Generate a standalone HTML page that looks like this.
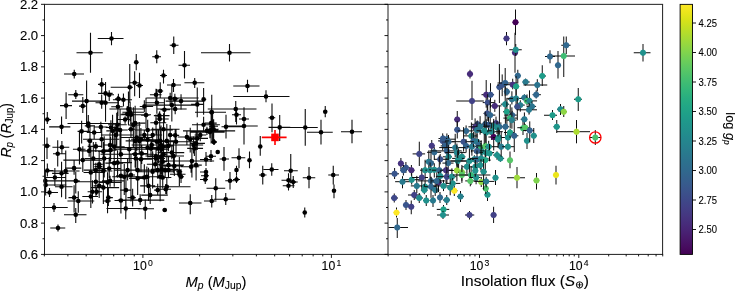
<!DOCTYPE html><html><head><meta charset="utf-8"><style>html,body{margin:0;padding:0;background:#fff;}svg{display:block;will-change:transform;}</style></head><body><svg width="735" height="293" viewBox="0 0 735 293"><rect width="735" height="293" fill="#fff"/><defs><linearGradient id="vir" x1="0" y1="1" x2="0" y2="0"><stop offset="0.0000" stop-color="#440154"/><stop offset="0.0312" stop-color="#470d60"/><stop offset="0.0625" stop-color="#48186a"/><stop offset="0.0938" stop-color="#482374"/><stop offset="0.1250" stop-color="#472d7b"/><stop offset="0.1562" stop-color="#453781"/><stop offset="0.1875" stop-color="#424086"/><stop offset="0.2188" stop-color="#3e4989"/><stop offset="0.2500" stop-color="#3b528b"/><stop offset="0.2812" stop-color="#375b8d"/><stop offset="0.3125" stop-color="#33638d"/><stop offset="0.3438" stop-color="#2f6b8e"/><stop offset="0.3750" stop-color="#2c728e"/><stop offset="0.4062" stop-color="#297a8e"/><stop offset="0.4375" stop-color="#26828e"/><stop offset="0.4688" stop-color="#23898e"/><stop offset="0.5000" stop-color="#21918c"/><stop offset="0.5312" stop-color="#1f988b"/><stop offset="0.5625" stop-color="#1fa088"/><stop offset="0.5938" stop-color="#22a785"/><stop offset="0.6250" stop-color="#28ae80"/><stop offset="0.6562" stop-color="#32b67a"/><stop offset="0.6875" stop-color="#3fbc73"/><stop offset="0.7188" stop-color="#4ec36b"/><stop offset="0.7500" stop-color="#5ec962"/><stop offset="0.7812" stop-color="#70cf57"/><stop offset="0.8125" stop-color="#84d44b"/><stop offset="0.8438" stop-color="#98d83e"/><stop offset="0.8750" stop-color="#addc30"/><stop offset="0.9062" stop-color="#c2df23"/><stop offset="0.9375" stop-color="#d8e219"/><stop offset="0.9688" stop-color="#ece51b"/><stop offset="1.0000" stop-color="#fde725"/></linearGradient></defs><rect x="680.10" y="4.35" width="12.40" height="250.05" fill="url(#vir)"/><path d="M97.75 38.50H123.50M111.50 32.00V45.25M76.50 52.75H102.75M90.50 32.75V72.75M64.00 74.00H84.00M74.25 69.75V78.50M134.00 62.25H138.50M136.25 54.00V70.25M152.25 56.75H161.00M156.75 50.25V63.25M169.75 45.25H178.50M173.75 36.50V54.00M178.50 65.25H190.00M184.50 51.00V78.50M201.00 52.75H250.50M229.50 44.00V61.50M160.00 75.50H167.00M163.50 69.75V83.50M110.70 87.25H133.00M129.75 64.00V103.00M136.00 85.50H143.00M139.50 72.75V98.00M233.25 86.00H259.50M247.50 79.75V92.25M233.25 96.50H289.50M266.00 90.25V102.25M323.50 111.75H327.00M325.25 106.00V117.25M207.75 109.00H256.50M235.75 101.00V122.00M232.00 114.75H241.00M236.50 107.00V124.50M239.00 119.00H249.00M244.00 112.00V125.00M268.50 117.75H275.25M272.00 103.50V132.25M204.00 112.25H225.25M211.75 94.75V129.75M221.50 126.75H244.00M226.00 114.75V138.50M226.50 126.00H257.75M244.00 107.25V144.50M268.50 127.40H290.25M279.70 115.00V141.00M290.25 127.50H317.75M305.25 109.00V145.75M307.00 132.25H332.75M321.00 119.75V144.50M341.00 131.75H362.00M352.00 119.75V143.25M259.00 146.50H261.50M260.25 136.10V155.75M211.00 142.00H217.00M214.00 139.00V145.00M206.00 156.25H216.00M211.00 150.00V162.00M200.00 159.50H212.00M206.00 152.00V166.00M219.50 159.00H229.00M224.00 147.00V170.75M231.50 157.75H245.25M239.00 148.25V168.25M248.00 160.25H251.00M249.50 151.50V168.25M235.00 170.00H238.00M236.50 165.75V175.75M233.00 179.50H240.00M236.50 176.00V183.00M225.25 180.75H234.50M230.00 172.00V189.50M259.00 175.00H266.50M262.75 165.75V184.50M263.50 169.50H278.50M271.75 163.25V175.75M284.00 170.75H297.75M290.75 154.00V183.25M281.50 180.25H294.00M288.50 173.25V189.50M289.00 182.00H297.75M293.25 176.00V188.00M282.75 185.75H294.50M288.50 181.00V190.50M302.75 177.75H315.25M309.00 167.00V188.25M328.25 175.00H339.00M333.25 165.75V184.50M333.00 190.75H335.00M334.00 184.50V198.25M200.00 172.00H208.00M206.00 168.00V176.00M201.00 175.75H209.00M206.00 172.00V180.00M200.00 179.50H208.00M205.25 175.00V184.00M206.50 188.25H225.25M215.75 178.25V200.00M214.00 199.25H235.25M225.75 193.00V205.00M204.00 201.00H216.50M211.75 195.00V207.50M303.75 212.50H305.75M304.75 207.50V217.50M44.50 192.50H58.00M49.50 188.00V197.00M44.50 207.50H67.75M54.00 203.00V212.00M50.25 228.00H65.25M58.00 224.50V231.50M64.00 214.75H86.50M75.75 208.00V223.00M106.50 208.50H140.25M125.75 199.25V219.25M137.75 208.75H154.00M145.25 199.25V219.25M162.50 210.00H167.00M164.75 208.00V212.00M179.00 203.00H201.50M190.25 194.25V214.25M68.20 94.70H83.30M75.80 90.00V99.00M60.00 105.60H72.00M66.10 92.20V119.00M44.50 119.50H51.00M47.30 112.00V124.00M72.00 101.10H105.00M86.60 80.50V126.50M79.00 106.10H86.00M82.80 97.00V113.00M98.00 84.40H105.50M101.70 78.00V93.00M184.40 82.70H204.40M194.70 78.00V88.00M195.00 112.30H226.00M211.60 106.00V119.00M167.00 85.00H181.00M173.50 79.00V92.00M160.00 189.25H171.00M165.75 184.00V194.00M98.11 93.38H112.65M105.54 81.96V106.14M106.57 94.72H114.03M109.22 90.36V100.95M95.51 102.75H107.03M101.69 94.58V108.63M97.46 102.75H118.59M105.54 89.04V121.86M115.08 98.90H121.26M118.41 93.72V104.65M112.92 99.74H131.99M123.43 93.40V106.46M111.24 106.76H122.73M117.91 96.06V115.95M129.12 82.68H138.90M134.64 71.26V96.32M139.73 106.43H153.13M144.33 100.18V111.91M109.42 108.94H143.69M128.45 91.51V125.11M122.41 112.28H144.34M130.12 101.66V121.38M120.75 114.79H151.00M130.96 107.10V122.72M121.57 113.95H133.82M127.28 106.05V119.94M141.11 115.12H149.46M146.01 97.82V128.31M117.34 119.47H129.88M125.10 116.30V123.76M149.90 94.72H161.58M156.04 88.63V102.16M155.47 91.04H163.16M160.22 82.32V98.58M145.24 102.75H164.45M156.88 89.05V113.83M153.87 115.63H169.54M159.38 112.20V120.64M155.31 118.97H168.71M159.72 111.15V129.53M160.38 109.77H169.95M164.40 98.71V122.32M150.27 122.82H166.25M156.04 114.47V134.62M129.98 123.15H145.25M135.14 105.80V135.60M108.11 124.82H126.74M117.58 111.83V133.98M67.51 123.48H120.81M88.31 115.06V130.34M49.12 126.83H70.38M61.56 116.44V134.12M146.42 98.07H198.63M170.17 92.82V106.03M169.01 98.90H178.45M174.85 93.65V104.38M165.65 101.08H204.03M181.04 94.29V109.81M143.45 105.09H195.65M171.84 84.48V121.52M156.27 108.94H186.67M175.18 104.04V114.26M202.06 99.40H206.19M203.61 88.01V114.80M191.11 104.42H203.92M197.26 87.42V117.31M191.98 124.82H219.93M203.61 116.78V132.33M204.97 123.15H216.73M211.14 113.47V130.32M44.50 145.90H50.30M47.01 137.40V158.95M52.42 147.24H69.25M61.89 140.94V153.26M52.97 153.76H65.84M57.71 140.36V166.54M72.93 149.25H85.52M79.45 130.62V164.53M63.36 160.12H101.95M82.80 146.37V171.97M65.03 168.14H81.34M74.10 159.39V174.76M45.70 170.99H79.56M65.74 150.47V199.06M44.50 170.48H53.36M47.34 163.57V176.55M86.83 140.89H92.08M89.99 126.25V151.27M86.76 132.53H101.44M94.17 126.63V139.26M77.58 131.35H89.62M81.63 120.72V143.59M80.69 150.92H105.30M89.15 143.56V156.87M87.67 146.40H101.60M95.84 141.94V151.88M84.80 158.44H108.76M93.33 142.10V170.28M83.04 139.21H119.21M101.69 127.64V147.66M98.13 151.42H112.30M103.36 142.06V163.94M103.24 145.07H116.87M110.05 132.55V161.56M106.32 130.85H121.98M112.56 114.63V147.41M100.89 135.03H133.05M115.91 124.77V145.24M113.51 128.68H120.38M116.74 112.63V146.88M114.30 130.02H127.75M120.09 108.49V156.78M105.68 127.51H117.96M110.89 120.19V132.72M94.32 127.01H107.59M100.86 121.75V132.26M84.81 125.84H94.98M88.31 121.11V133.06M102.59 150.08H116.57M110.56 137.04V161.63M108.71 146.74H124.70M114.23 126.33V162.61M100.55 154.26H154.10M120.92 130.04V178.04M93.94 158.44H112.53M104.20 136.28V177.54M93.82 164.30H103.82M99.18 151.41V175.50M105.32 163.13H123.12M114.23 138.79V186.79M109.59 162.63H131.98M117.58 150.14V177.83M97.26 168.48H121.48M109.22 157.30V178.18M114.74 149.25H152.68M129.28 138.44V162.55M125.64 140.89H152.65M135.14 130.78V153.16M120.65 137.54H152.65M136.81 124.74V150.71M128.18 140.89H146.04M139.32 122.09V154.52M127.99 129.18H135.31M130.96 117.52V137.58M138.72 135.03H147.81M144.33 130.34V141.49M135.32 130.02H172.75M147.68 119.68V140.42M145.25 135.03H162.10M152.70 127.58V140.81M135.32 139.72H162.17M147.68 123.39V157.53M145.69 148.41H160.23M151.02 138.69V155.97M151.02 141.72H163.73M156.88 129.16V150.71M131.63 145.07H184.03M161.06 125.39V174.34M151.44 129.18H179.52M163.57 113.35V152.75M150.81 149.25H168.59M161.89 144.36V155.22M126.07 154.26H149.28M135.14 144.42V167.43M133.68 159.28H151.98M140.99 150.93V171.23M148.20 158.44H163.26M156.04 149.48V165.17M148.15 156.77H176.11M161.06 148.36V166.38M156.86 161.79H166.69M162.73 152.41V173.73M146.84 164.30H160.37M155.20 154.05V172.19M114.33 170.15H153.96M137.65 166.72V172.78M120.54 170.15H132.03M127.61 158.01V180.39M145.30 170.15H181.41M157.71 159.38V178.85M83.77 170.15H106.16M95.84 162.75V176.50M93.23 170.99H112.38M103.36 163.52V182.52M128.20 125.00H140.71M133.38 107.33V146.88M131.05 139.21H149.04M140.90 128.01V147.40M152.18 140.89H165.86M160.13 126.90V152.54M156.03 140.89H174.42M166.82 124.06V162.02M167.90 135.03H173.43M170.17 124.93V145.85M169.07 135.37H179.17M175.18 128.87V140.26M159.89 141.72H194.90M176.02 129.43V155.85M160.92 145.90H173.81M168.49 140.77V151.32M159.60 146.74H167.21M162.64 143.90V149.91M152.12 148.41H163.27M158.46 128.64V163.12M145.39 145.07H159.83M151.77 140.41V150.68M114.47 147.58H168.00M147.59 139.54V153.33M132.06 153.43H147.87M141.74 145.29V164.11M112.70 158.44H165.04M135.89 147.07V171.19M145.49 155.94H170.50M155.95 152.90V160.38M161.14 154.26H167.54M163.48 145.84V162.69M157.58 152.59H184.24M171.84 145.00V159.23M162.16 155.94H184.00M173.51 140.86V172.67M158.82 165.13H183.93M168.49 156.04V171.96M162.33 165.97H182.91M174.35 154.73V175.94M159.14 170.15H175.26M165.15 164.89V177.01M137.01 171.82H173.90M152.61 151.19V188.53M177.73 137.04H201.77M186.89 130.73V145.16M186.85 139.21H197.02M190.23 127.71V152.49M180.31 145.07H203.16M193.58 136.32V153.48M190.43 143.39H204.96M196.09 130.48V154.50M187.19 148.41H203.06M194.41 141.41V155.91M191.94 138.38H208.00M197.26 122.80V149.94M194.59 135.03H206.22M200.27 130.46V141.14M182.97 130.85H235.14M206.96 126.72V134.98M207.00 130.02H218.21M211.14 116.67V143.46M205.73 129.18H218.66M213.65 119.31V140.00M161.45 160.95H214.10M191.91 147.95V177.41M192.14 165.13H201.80M196.09 150.89V180.59M180.55 166.81H199.24M191.07 158.89V172.70M176.12 171.82H182.25M179.36 156.94V186.12M44.50 177.54H66.24M54.87 168.07V185.92M52.10 173.36H68.61M61.56 161.82V182.69M54.92 186.74H72.55M61.56 176.79V197.26M71.19 180.89H79.69M75.77 172.06V193.61M44.50 180.89H71.28M45.34 170.79V192.04M44.50 185.07H66.48M45.67 177.32V195.39M68.51 197.61H77.75M74.10 185.20V212.59M67.43 200.95H94.22M78.28 191.22V212.83M83.55 172.53H102.16M90.82 145.79V194.07M94.45 166.67H102.35M99.18 153.79V179.00M74.45 181.72H111.24M95.84 170.29V195.65M93.59 185.90H103.45M99.18 177.80V197.97M90.95 187.58H119.13M103.36 177.11V203.90M98.89 182.56H121.80M107.55 172.18V195.64M101.98 180.89H123.90M110.05 175.78V186.63M87.60 191.76H96.73M92.49 180.31V203.43M88.61 191.76H102.07M96.68 187.27V195.37M82.29 196.44H98.04M90.82 185.29V208.10M105.95 197.61H112.88M108.38 187.11V206.11M102.69 200.95H110.99M107.55 191.67V213.23M116.14 175.87H130.58M120.92 148.56V196.96M112.21 176.71H141.54M124.27 163.79V194.92M125.80 175.03H135.02M130.96 153.28V201.51M129.12 178.38H149.20M137.65 159.73V195.07M136.33 177.54H149.64M144.33 164.16V192.97M131.24 176.71H159.31M146.84 166.51V184.51M156.84 177.54H171.33M162.73 165.52V188.46M140.16 185.90H155.20M148.52 167.85V200.96M154.11 190.08H160.25M157.71 183.69V194.86M120.10 190.08H130.95M125.94 171.54V212.24M141.24 195.10H167.81M150.19 187.86V203.99M127.39 197.61H135.83M132.63 188.71V206.48M117.83 200.12H164.29M140.15 194.25V204.89M114.50 200.45H125.26M120.92 191.30V213.54M150.96 169.18H178.31M161.81 159.07V179.33M164.54 170.02H171.65M168.49 161.73V178.31M156.92 176.71H162.90M160.13 154.82V201.35M169.92 174.20H185.50M179.36 166.74V181.65M177.89 176.71H184.06M181.04 169.13V182.94M151.92 186.74H190.51M166.82 176.89V194.35M189.90 132.10H224.66M209.90 125.56V138.24M209.01 126.20H218.00M212.60 111.29V143.79" stroke="#0d0d0d" stroke-width="1.1" fill="none"/><g fill="#000"><circle cx="111.50" cy="38.50" r="2.3"/><circle cx="90.50" cy="52.75" r="2.3"/><circle cx="74.25" cy="74.00" r="2.3"/><circle cx="136.25" cy="62.25" r="2.3"/><circle cx="156.75" cy="56.75" r="2.3"/><circle cx="173.75" cy="45.25" r="2.3"/><circle cx="184.50" cy="65.25" r="2.3"/><circle cx="229.50" cy="52.75" r="2.3"/><circle cx="163.50" cy="75.50" r="2.3"/><circle cx="129.75" cy="87.25" r="2.3"/><circle cx="139.50" cy="85.50" r="2.3"/><circle cx="247.50" cy="86.00" r="2.3"/><circle cx="266.00" cy="96.50" r="2.3"/><circle cx="325.25" cy="111.75" r="2.3"/><circle cx="235.75" cy="109.00" r="2.3"/><circle cx="236.50" cy="114.75" r="2.3"/><circle cx="244.00" cy="119.00" r="2.3"/><circle cx="272.00" cy="117.75" r="2.3"/><circle cx="211.75" cy="112.25" r="2.3"/><circle cx="226.00" cy="126.75" r="2.3"/><circle cx="244.00" cy="126.00" r="2.3"/><circle cx="279.70" cy="127.40" r="2.3"/><circle cx="305.25" cy="127.50" r="2.3"/><circle cx="321.00" cy="132.25" r="2.3"/><circle cx="352.00" cy="131.75" r="2.3"/><circle cx="260.25" cy="146.50" r="2.3"/><circle cx="217.75" cy="152.00" r="2.3"/><path d="M214.00 139.00L217.00 142.00L214.00 145.00L211.00 142.00Z"/><circle cx="211.00" cy="156.25" r="2.3"/><circle cx="206.00" cy="159.50" r="2.3"/><circle cx="224.00" cy="159.00" r="2.3"/><circle cx="239.00" cy="157.75" r="2.3"/><circle cx="249.50" cy="160.25" r="2.3"/><circle cx="236.50" cy="170.00" r="2.3"/><path d="M236.50 176.50L239.50 179.50L236.50 182.50L233.50 179.50Z"/><circle cx="230.00" cy="180.75" r="2.3"/><circle cx="262.75" cy="175.00" r="2.3"/><circle cx="271.75" cy="169.50" r="2.3"/><circle cx="290.75" cy="170.75" r="2.3"/><circle cx="288.50" cy="180.25" r="2.3"/><path d="M293.25 179.00L296.25 182.00L293.25 185.00L290.25 182.00Z"/><circle cx="288.50" cy="185.75" r="2.3"/><circle cx="309.00" cy="177.75" r="2.3"/><circle cx="333.25" cy="175.00" r="2.3"/><circle cx="334.00" cy="190.75" r="2.3"/><circle cx="206.00" cy="172.00" r="2.3"/><circle cx="206.00" cy="175.75" r="2.3"/><circle cx="205.25" cy="179.50" r="2.3"/><circle cx="215.75" cy="188.25" r="2.3"/><circle cx="225.75" cy="199.25" r="2.3"/><circle cx="211.75" cy="201.00" r="2.3"/><circle cx="304.75" cy="212.50" r="2.3"/><circle cx="49.50" cy="192.50" r="2.3"/><circle cx="54.00" cy="207.50" r="2.3"/><circle cx="58.00" cy="228.00" r="2.3"/><circle cx="75.75" cy="214.75" r="2.3"/><circle cx="125.75" cy="208.50" r="2.3"/><circle cx="145.25" cy="208.75" r="2.3"/><circle cx="164.75" cy="210.00" r="2.3"/><circle cx="190.25" cy="203.00" r="2.3"/><circle cx="75.80" cy="94.70" r="2.3"/><circle cx="66.10" cy="105.60" r="2.3"/><circle cx="47.30" cy="119.50" r="2.3"/><circle cx="86.60" cy="101.10" r="2.3"/><circle cx="82.80" cy="106.10" r="2.3"/><circle cx="101.70" cy="84.40" r="2.3"/><circle cx="194.70" cy="82.70" r="2.3"/><circle cx="211.60" cy="112.30" r="2.3"/><circle cx="173.50" cy="85.00" r="2.3"/><circle cx="165.75" cy="189.25" r="2.3"/><circle cx="105.54" cy="93.38" r="2.3"/><circle cx="109.22" cy="94.72" r="2.3"/><circle cx="101.69" cy="102.75" r="2.3"/><circle cx="105.54" cy="102.75" r="2.3"/><circle cx="118.41" cy="98.90" r="2.3"/><circle cx="123.43" cy="99.74" r="2.3"/><circle cx="117.91" cy="106.76" r="2.3"/><circle cx="134.64" cy="82.68" r="2.3"/><circle cx="144.33" cy="106.43" r="2.3"/><circle cx="128.45" cy="108.94" r="2.3"/><circle cx="130.12" cy="112.28" r="2.3"/><circle cx="130.96" cy="114.79" r="2.3"/><circle cx="127.28" cy="113.95" r="2.3"/><circle cx="146.01" cy="115.12" r="2.3"/><circle cx="125.10" cy="119.47" r="2.3"/><circle cx="156.04" cy="94.72" r="2.3"/><circle cx="160.22" cy="91.04" r="2.3"/><circle cx="156.88" cy="102.75" r="2.3"/><circle cx="159.38" cy="115.63" r="2.3"/><circle cx="159.72" cy="118.97" r="2.3"/><circle cx="164.40" cy="109.77" r="2.3"/><circle cx="156.04" cy="122.82" r="2.3"/><circle cx="135.14" cy="123.15" r="2.3"/><circle cx="117.58" cy="124.82" r="2.3"/><circle cx="88.31" cy="123.48" r="2.3"/><circle cx="61.56" cy="126.83" r="2.3"/><circle cx="170.17" cy="98.07" r="2.3"/><circle cx="174.85" cy="98.90" r="2.3"/><circle cx="181.04" cy="101.08" r="2.3"/><circle cx="171.84" cy="105.09" r="2.3"/><circle cx="175.18" cy="108.94" r="2.3"/><circle cx="203.61" cy="99.40" r="2.3"/><circle cx="197.26" cy="104.42" r="2.3"/><circle cx="203.61" cy="124.82" r="2.3"/><circle cx="211.14" cy="123.15" r="2.3"/><circle cx="47.01" cy="145.90" r="2.3"/><circle cx="61.89" cy="147.24" r="2.3"/><circle cx="57.71" cy="153.76" r="2.3"/><circle cx="79.45" cy="149.25" r="2.3"/><circle cx="82.80" cy="160.12" r="2.3"/><circle cx="74.10" cy="168.14" r="2.3"/><circle cx="65.74" cy="170.99" r="2.3"/><circle cx="47.34" cy="170.48" r="2.3"/><circle cx="89.99" cy="140.89" r="2.3"/><circle cx="94.17" cy="132.53" r="2.3"/><circle cx="81.63" cy="131.35" r="2.3"/><circle cx="89.15" cy="150.92" r="2.3"/><circle cx="95.84" cy="146.40" r="2.3"/><circle cx="93.33" cy="158.44" r="2.3"/><circle cx="101.69" cy="139.21" r="2.3"/><circle cx="103.36" cy="151.42" r="2.3"/><circle cx="110.05" cy="145.07" r="2.3"/><circle cx="112.56" cy="130.85" r="2.3"/><circle cx="115.91" cy="135.03" r="2.3"/><circle cx="116.74" cy="128.68" r="2.3"/><circle cx="120.09" cy="130.02" r="2.3"/><circle cx="110.89" cy="127.51" r="2.3"/><circle cx="100.86" cy="127.01" r="2.3"/><circle cx="88.31" cy="125.84" r="2.3"/><circle cx="110.56" cy="150.08" r="2.3"/><circle cx="114.23" cy="146.74" r="2.3"/><circle cx="120.92" cy="154.26" r="2.3"/><circle cx="104.20" cy="158.44" r="2.3"/><circle cx="99.18" cy="164.30" r="2.3"/><circle cx="114.23" cy="163.13" r="2.3"/><circle cx="117.58" cy="162.63" r="2.3"/><circle cx="109.22" cy="168.48" r="2.3"/><circle cx="129.28" cy="149.25" r="2.3"/><circle cx="135.14" cy="140.89" r="2.3"/><circle cx="136.81" cy="137.54" r="2.3"/><circle cx="139.32" cy="140.89" r="2.3"/><circle cx="130.96" cy="129.18" r="2.3"/><circle cx="144.33" cy="135.03" r="2.3"/><circle cx="147.68" cy="130.02" r="2.3"/><circle cx="152.70" cy="135.03" r="2.3"/><circle cx="147.68" cy="139.72" r="2.3"/><circle cx="151.02" cy="148.41" r="2.3"/><circle cx="156.88" cy="141.72" r="2.3"/><circle cx="161.06" cy="145.07" r="2.3"/><circle cx="163.57" cy="129.18" r="2.3"/><circle cx="161.89" cy="149.25" r="2.3"/><circle cx="135.14" cy="154.26" r="2.3"/><circle cx="140.99" cy="159.28" r="2.3"/><circle cx="156.04" cy="158.44" r="2.3"/><circle cx="161.06" cy="156.77" r="2.3"/><circle cx="162.73" cy="161.79" r="2.3"/><circle cx="155.20" cy="164.30" r="2.3"/><circle cx="137.65" cy="170.15" r="2.3"/><circle cx="127.61" cy="170.15" r="2.3"/><circle cx="157.71" cy="170.15" r="2.3"/><circle cx="95.84" cy="170.15" r="2.3"/><circle cx="103.36" cy="170.99" r="2.3"/><circle cx="133.38" cy="125.00" r="2.3"/><circle cx="140.90" cy="139.21" r="2.3"/><circle cx="160.13" cy="140.89" r="2.3"/><circle cx="166.82" cy="140.89" r="2.3"/><circle cx="170.17" cy="135.03" r="2.3"/><circle cx="175.18" cy="135.37" r="2.3"/><circle cx="176.02" cy="141.72" r="2.3"/><circle cx="168.49" cy="145.90" r="2.3"/><circle cx="162.64" cy="146.74" r="2.3"/><circle cx="158.46" cy="148.41" r="2.3"/><circle cx="151.77" cy="145.07" r="2.3"/><circle cx="147.59" cy="147.58" r="2.3"/><circle cx="141.74" cy="153.43" r="2.3"/><circle cx="135.89" cy="158.44" r="2.3"/><circle cx="155.95" cy="155.94" r="2.3"/><circle cx="163.48" cy="154.26" r="2.3"/><circle cx="171.84" cy="152.59" r="2.3"/><circle cx="173.51" cy="155.94" r="2.3"/><circle cx="168.49" cy="165.13" r="2.3"/><circle cx="174.35" cy="165.97" r="2.3"/><circle cx="165.15" cy="170.15" r="2.3"/><circle cx="152.61" cy="171.82" r="2.3"/><circle cx="186.89" cy="137.04" r="2.3"/><circle cx="190.23" cy="139.21" r="2.3"/><circle cx="193.58" cy="145.07" r="2.3"/><circle cx="196.09" cy="143.39" r="2.3"/><circle cx="194.41" cy="148.41" r="2.3"/><circle cx="197.26" cy="138.38" r="2.3"/><circle cx="200.27" cy="135.03" r="2.3"/><circle cx="206.96" cy="130.85" r="2.3"/><circle cx="211.14" cy="130.02" r="2.3"/><circle cx="213.65" cy="129.18" r="2.3"/><circle cx="191.91" cy="160.95" r="2.3"/><circle cx="196.09" cy="165.13" r="2.3"/><circle cx="191.07" cy="166.81" r="2.3"/><circle cx="179.36" cy="171.82" r="2.3"/><circle cx="54.87" cy="177.54" r="2.3"/><circle cx="61.56" cy="173.36" r="2.3"/><circle cx="61.56" cy="186.74" r="2.3"/><circle cx="75.77" cy="180.89" r="2.3"/><circle cx="45.34" cy="180.89" r="2.3"/><circle cx="45.67" cy="185.07" r="2.3"/><circle cx="74.10" cy="197.61" r="2.3"/><circle cx="78.28" cy="200.95" r="2.3"/><circle cx="90.82" cy="172.53" r="2.3"/><circle cx="99.18" cy="166.67" r="2.3"/><circle cx="95.84" cy="181.72" r="2.3"/><circle cx="99.18" cy="185.90" r="2.3"/><circle cx="103.36" cy="187.58" r="2.3"/><circle cx="107.55" cy="182.56" r="2.3"/><circle cx="110.05" cy="180.89" r="2.3"/><circle cx="92.49" cy="191.76" r="2.3"/><circle cx="96.68" cy="191.76" r="2.3"/><circle cx="90.82" cy="196.44" r="2.3"/><circle cx="108.38" cy="197.61" r="2.3"/><circle cx="107.55" cy="200.95" r="2.3"/><circle cx="120.92" cy="175.87" r="2.3"/><circle cx="124.27" cy="176.71" r="2.3"/><circle cx="130.96" cy="175.03" r="2.3"/><circle cx="137.65" cy="178.38" r="2.3"/><circle cx="144.33" cy="177.54" r="2.3"/><circle cx="146.84" cy="176.71" r="2.3"/><circle cx="162.73" cy="177.54" r="2.3"/><circle cx="148.52" cy="185.90" r="2.3"/><circle cx="157.71" cy="190.08" r="2.3"/><circle cx="125.94" cy="190.08" r="2.3"/><circle cx="150.19" cy="195.10" r="2.3"/><circle cx="132.63" cy="197.61" r="2.3"/><circle cx="140.15" cy="200.12" r="2.3"/><circle cx="120.92" cy="200.45" r="2.3"/><circle cx="161.81" cy="169.18" r="2.3"/><circle cx="168.49" cy="170.02" r="2.3"/><circle cx="160.13" cy="176.71" r="2.3"/><circle cx="179.36" cy="174.20" r="2.3"/><circle cx="181.04" cy="176.71" r="2.3"/><circle cx="166.82" cy="186.74" r="2.3"/><circle cx="209.90" cy="132.10" r="2.3"/><circle cx="212.60" cy="126.20" r="2.3"/></g><path d="M261.80 137.40H286.60M275.00 130.10V145.00" stroke="#ff0000" stroke-width="1.6" fill="none"/><rect x="271.20" y="133.60" width="7.6" height="7.6" fill="#ff0000"/><path d="M513.50 22.25H517.50M515.50 9.50V35.00" stroke="#0d0d0d" stroke-width="1" fill="none"/><path d="M515.50 18.90L518.85 22.25L515.50 25.60L512.15 22.25Z" fill="#440256"/><circle cx="515.50" cy="22.25" r="2.95" fill="#440256"/><path d="M504.50 38.50H508.50M506.50 32.00V45.25" stroke="#0d0d0d" stroke-width="1" fill="none"/><path d="M506.50 35.15L509.85 38.50L506.50 41.85L503.15 38.50Z" fill="#443a83"/><circle cx="506.50" cy="38.50" r="2.95" fill="#443a83"/><path d="M513.00 52.75H517.00M515.00 32.75V72.75" stroke="#0d0d0d" stroke-width="1" fill="none"/><path d="M515.00 49.40L518.35 52.75L515.00 56.10L511.65 52.75Z" fill="#472c7a"/><circle cx="515.00" cy="52.75" r="2.95" fill="#472c7a"/><path d="M509.25 49.75H521.75M515.75 44.00V56.00" stroke="#0d0d0d" stroke-width="1" fill="none"/><path d="M515.75 46.40L519.10 49.75L515.75 53.10L512.40 49.75Z" fill="#21918c"/><circle cx="515.75" cy="49.75" r="2.95" fill="#21918c"/><path d="M467.00 74.00H473.00M470.00 69.75V78.50" stroke="#0d0d0d" stroke-width="1" fill="none"/><path d="M470.00 70.65L473.35 74.00L470.00 77.35L466.65 74.00Z" fill="#472c7a"/><circle cx="470.00" cy="74.00" r="2.95" fill="#472c7a"/><path d="M497.50 87.10H501.50M499.40 64.00V103.00" stroke="#0d0d0d" stroke-width="1" fill="none"/><path d="M499.40 83.75L502.75 87.10L499.40 90.45L496.05 87.10Z" fill="#39558c"/><circle cx="499.40" cy="87.10" r="2.95" fill="#39558c"/><path d="M515.00 75.75H520.50M517.80 69.75V83.50" stroke="#0d0d0d" stroke-width="1" fill="none"/><path d="M517.80 72.40L521.15 75.75L517.80 79.10L514.45 75.75Z" fill="#31688e"/><circle cx="517.80" cy="75.75" r="2.95" fill="#31688e"/><path d="M539.00 76.00H546.00M542.25 65.25V86.00" stroke="#0d0d0d" stroke-width="1" fill="none"/><path d="M542.25 72.65L545.60 76.00L542.25 79.35L538.90 76.00Z" fill="#1e9c89"/><circle cx="542.25" cy="76.00" r="2.95" fill="#1e9c89"/><path d="M545.00 56.50H555.00M550.00 50.25V63.25" stroke="#0d0d0d" stroke-width="1" fill="none"/><path d="M550.00 53.15L553.35 56.50L550.00 59.85L546.65 56.50Z" fill="#31688e"/><circle cx="550.00" cy="56.50" r="2.95" fill="#31688e"/><path d="M552.50 56.00H575.00M563.75 36.50V77.00" stroke="#0d0d0d" stroke-width="1" fill="none"/><path d="M563.75 52.65L567.10 56.00L563.75 59.35L560.40 56.00Z" fill="#3fbc73"/><circle cx="563.75" cy="56.00" r="2.95" fill="#3fbc73"/><path d="M561.25 45.25H570.50M566.25 36.50V54.00" stroke="#0d0d0d" stroke-width="1" fill="none"/><path d="M566.25 41.90L569.60 45.25L566.25 48.60L562.90 45.25Z" fill="#31688e"/><circle cx="566.25" cy="45.25" r="2.95" fill="#31688e"/><path d="M555.00 65.25H561.00M558.00 51.00V78.50" stroke="#0d0d0d" stroke-width="1" fill="none"/><path d="M558.00 61.90L561.35 65.25L558.00 68.60L554.65 65.25Z" fill="#31688e"/><circle cx="558.00" cy="65.25" r="2.95" fill="#31688e"/><path d="M633.75 52.75H650.50M643.00 44.00V61.50" stroke="#0d0d0d" stroke-width="1" fill="none"/><path d="M643.00 49.40L646.35 52.75L643.00 56.10L639.65 52.75Z" fill="#21918c"/><circle cx="643.00" cy="52.75" r="2.95" fill="#21918c"/><path d="M456.20 101.00H483.80M472.00 80.80V120.00" stroke="#0d0d0d" stroke-width="1" fill="none"/><path d="M472.00 97.65L475.35 101.00L472.00 104.35L468.65 101.00Z" fill="#424186"/><circle cx="472.00" cy="101.00" r="2.95" fill="#424186"/><path d="M455.50 119.50H459.00M457.25 111.00V128.00" stroke="#0d0d0d" stroke-width="1" fill="none"/><path d="M457.25 116.15L460.60 119.50L457.25 122.85L453.90 119.50Z" fill="#472c7a"/><circle cx="457.25" cy="119.50" r="2.95" fill="#472c7a"/><path d="M455.00 129.75H459.50M457.25 121.00V138.50" stroke="#0d0d0d" stroke-width="1" fill="none"/><path d="M457.25 126.40L460.60 129.75L457.25 133.10L453.90 129.75Z" fill="#39558c"/><circle cx="457.25" cy="129.75" r="2.95" fill="#39558c"/><path d="M574.00 99.25H582.00M578.25 88.00V111.00" stroke="#0d0d0d" stroke-width="1" fill="none"/><path d="M578.25 95.90L581.60 99.25L578.25 102.60L574.90 99.25Z" fill="#1e9c89"/><circle cx="578.25" cy="99.25" r="2.95" fill="#1e9c89"/><path d="M557.00 109.25H564.00M560.50 104.00V115.00" stroke="#0d0d0d" stroke-width="1" fill="none"/><path d="M560.50 105.90L563.85 109.25L560.50 112.60L557.15 109.25Z" fill="#228b8d"/><circle cx="560.50" cy="109.25" r="2.95" fill="#228b8d"/><path d="M560.00 111.75H567.00M563.75 106.00V117.00" stroke="#0d0d0d" stroke-width="1" fill="none"/><path d="M563.75 108.40L567.10 111.75L563.75 115.10L560.40 111.75Z" fill="#8ed645"/><circle cx="563.75" cy="111.75" r="2.95" fill="#8ed645"/><path d="M544.00 115.25H557.00M552.50 110.00V120.00" stroke="#0d0d0d" stroke-width="1" fill="none"/><path d="M552.50 111.90L555.85 115.25L552.50 118.60L549.15 115.25Z" fill="#1e9c89"/><circle cx="552.50" cy="115.25" r="2.95" fill="#1e9c89"/><path d="M553.50 126.75H560.00M556.75 120.00V133.00" stroke="#0d0d0d" stroke-width="1" fill="none"/><path d="M556.75 123.40L560.10 126.75L556.75 130.10L553.40 126.75Z" fill="#1f968b"/><circle cx="556.75" cy="126.75" r="2.95" fill="#1f968b"/><path d="M556.75 131.70H590.00M576.50 120.00V143.30" stroke="#0d0d0d" stroke-width="1" fill="none"/><path d="M576.50 128.35L579.85 131.70L576.50 135.05L573.15 131.70Z" fill="#addc30"/><circle cx="576.50" cy="131.70" r="2.95" fill="#addc30"/><path d="M589.70 137.50H600.80M595.30 130.10V145.00" stroke="#0d0d0d" stroke-width="1" fill="none"/><path d="M595.30 134.15L598.65 137.50L595.30 140.85L591.95 137.50Z" fill="#4ac16d"/><circle cx="595.30" cy="137.50" r="2.95" fill="#4ac16d"/><path d="M554.50 175.00H557.50M556.00 165.75V184.50" stroke="#0d0d0d" stroke-width="1" fill="none"/><path d="M556.00 171.65L559.35 175.00L556.00 178.35L552.65 175.00Z" fill="#ece51b"/><circle cx="556.00" cy="175.00" r="2.95" fill="#ece51b"/><path d="M507.00 177.75H525.00M517.00 167.00V188.25" stroke="#0d0d0d" stroke-width="1" fill="none"/><path d="M517.00 174.40L520.35 177.75L517.00 181.10L513.65 177.75Z" fill="#9dd93b"/><circle cx="517.00" cy="177.75" r="2.95" fill="#9dd93b"/><path d="M534.50 180.50H538.50M536.50 173.00V189.50" stroke="#0d0d0d" stroke-width="1" fill="none"/><path d="M536.50 177.15L539.85 180.50L536.50 183.85L533.15 180.50Z" fill="#7fd34e"/><circle cx="536.50" cy="180.50" r="2.95" fill="#7fd34e"/><path d="M508.50 160.25H511.50M510.00 151.50V168.25" stroke="#0d0d0d" stroke-width="1" fill="none"/><path d="M510.00 156.90L513.35 160.25L510.00 163.60L506.65 160.25Z" fill="#56c667"/><circle cx="510.00" cy="160.25" r="2.95" fill="#56c667"/><path d="M493.50 177.75H497.50M495.50 170.00V185.00" stroke="#0d0d0d" stroke-width="1" fill="none"/><path d="M495.50 174.40L498.85 177.75L495.50 181.10L492.15 177.75Z" fill="#21918c"/><circle cx="495.50" cy="177.75" r="2.95" fill="#21918c"/><path d="M485.00 194.75H490.00M487.50 188.00V201.00" stroke="#0d0d0d" stroke-width="1" fill="none"/><path d="M487.50 191.40L490.85 194.75L487.50 198.10L484.15 194.75Z" fill="#1f968b"/><circle cx="487.50" cy="194.75" r="2.95" fill="#1f968b"/><path d="M484.00 188.50H487.50M485.75 183.00V194.00" stroke="#0d0d0d" stroke-width="1" fill="none"/><path d="M485.75 185.15L489.10 188.50L485.75 191.85L482.40 188.50Z" fill="#4ac16d"/><circle cx="485.75" cy="188.50" r="2.95" fill="#4ac16d"/><path d="M479.00 182.00H483.50M481.25 177.00V187.00" stroke="#0d0d0d" stroke-width="1" fill="none"/><path d="M481.25 178.65L484.60 182.00L481.25 185.35L477.90 182.00Z" fill="#8ed645"/><circle cx="481.25" cy="182.00" r="2.95" fill="#8ed645"/><path d="M531.00 135.75H537.00M533.75 128.00V143.00" stroke="#0d0d0d" stroke-width="1" fill="none"/><path d="M533.75 132.40L537.10 135.75L533.75 139.10L530.40 135.75Z" fill="#21918c"/><circle cx="533.75" cy="135.75" r="2.95" fill="#21918c"/><path d="M524.50 140.75H529.50M527.00 133.00V149.00" stroke="#0d0d0d" stroke-width="1" fill="none"/><path d="M527.00 137.40L530.35 140.75L527.00 144.10L523.65 140.75Z" fill="#21918c"/><circle cx="527.00" cy="140.75" r="2.95" fill="#21918c"/><path d="M520.00 128.25H526.00M523.00 121.00V135.00" stroke="#0d0d0d" stroke-width="1" fill="none"/><path d="M523.00 124.90L526.35 128.25L523.00 131.60L519.65 128.25Z" fill="#3fbc73"/><circle cx="523.00" cy="128.25" r="2.95" fill="#3fbc73"/><path d="M391.00 198.00H398.00M394.25 193.50V202.50" stroke="#0d0d0d" stroke-width="1" fill="none"/><path d="M394.25 194.65L397.60 198.00L394.25 201.35L390.90 198.00Z" fill="#3f4889"/><circle cx="394.25" cy="198.00" r="2.95" fill="#3f4889"/><path d="M395.00 212.60H398.00M396.50 207.50V217.50" stroke="#0d0d0d" stroke-width="1" fill="none"/><path d="M396.50 209.25L399.85 212.60L396.50 215.95L393.15 212.60Z" fill="#fde725"/><circle cx="396.50" cy="212.60" r="2.95" fill="#fde725"/><path d="M388.50 227.50H408.00M397.25 218.00V238.00" stroke="#0d0d0d" stroke-width="1" fill="none"/><path d="M397.25 224.15L400.60 227.50L397.25 230.85L393.90 227.50Z" fill="#31688e"/><circle cx="397.25" cy="227.50" r="2.95" fill="#31688e"/><path d="M403.00 205.00H409.00M406.00 200.00V210.00" stroke="#0d0d0d" stroke-width="1" fill="none"/><path d="M406.00 201.65L409.35 205.00L406.00 208.35L402.65 205.00Z" fill="#39558c"/><circle cx="406.00" cy="205.00" r="2.95" fill="#39558c"/><path d="M408.50 206.75H414.00M411.25 200.50V214.25" stroke="#0d0d0d" stroke-width="1" fill="none"/><path d="M411.25 203.40L414.60 206.75L411.25 210.10L407.90 206.75Z" fill="#424186"/><circle cx="411.25" cy="206.75" r="2.95" fill="#424186"/><path d="M408.00 195.00H420.50M414.25 190.00V200.00" stroke="#0d0d0d" stroke-width="1" fill="none"/><path d="M414.25 191.65L417.60 195.00L414.25 198.35L410.90 195.00Z" fill="#424186"/><circle cx="414.25" cy="195.00" r="2.95" fill="#424186"/><path d="M415.00 198.00H423.00M419.25 193.00V203.00" stroke="#0d0d0d" stroke-width="1" fill="none"/><path d="M419.25 194.65L422.60 198.00L419.25 201.35L415.90 198.00Z" fill="#228b8d"/><circle cx="419.25" cy="198.00" r="2.95" fill="#228b8d"/><path d="M423.00 200.50H429.50M426.25 195.00V206.00" stroke="#0d0d0d" stroke-width="1" fill="none"/><path d="M426.25 197.15L429.60 200.50L426.25 203.85L422.90 200.50Z" fill="#21918c"/><circle cx="426.25" cy="200.50" r="2.95" fill="#21918c"/><path d="M430.00 200.50H436.00M433.00 195.00V207.00" stroke="#0d0d0d" stroke-width="1" fill="none"/><path d="M433.00 197.15L436.35 200.50L433.00 203.85L429.65 200.50Z" fill="#297a8e"/><circle cx="433.00" cy="200.50" r="2.95" fill="#297a8e"/><path d="M437.00 197.50H443.00M440.00 192.00V203.00" stroke="#0d0d0d" stroke-width="1" fill="none"/><path d="M440.00 194.15L443.35 197.50L440.00 200.85L436.65 197.50Z" fill="#31688e"/><circle cx="440.00" cy="197.50" r="2.95" fill="#31688e"/><path d="M443.00 200.00H450.00M446.75 195.00V205.00" stroke="#0d0d0d" stroke-width="1" fill="none"/><path d="M446.75 196.65L450.10 200.00L446.75 203.35L443.40 200.00Z" fill="#27808e"/><circle cx="446.75" cy="200.00" r="2.95" fill="#27808e"/><path d="M436.75 209.40H449.25M443.50 205.00V214.00" stroke="#0d0d0d" stroke-width="1" fill="none"/><path d="M443.50 206.05L446.85 209.40L443.50 212.75L440.15 209.40Z" fill="#1fa187"/><circle cx="443.50" cy="209.40" r="2.95" fill="#1fa187"/><path d="M437.00 215.00H449.00M443.00 211.00V219.00" stroke="#0d0d0d" stroke-width="1" fill="none"/><path d="M443.00 211.65L446.35 215.00L443.00 218.35L439.65 215.00Z" fill="#21918c"/><circle cx="443.00" cy="215.00" r="2.95" fill="#21918c"/><path d="M457.00 196.50H464.00M460.50 191.00V202.00" stroke="#0d0d0d" stroke-width="1" fill="none"/><path d="M460.50 193.15L463.85 196.50L460.50 199.85L457.15 196.50Z" fill="#27808e"/><circle cx="460.50" cy="196.50" r="2.95" fill="#27808e"/><path d="M451.00 190.70H457.50M454.30 186.00V196.00" stroke="#0d0d0d" stroke-width="1" fill="none"/><path d="M454.30 187.35L457.65 190.70L454.30 194.05L450.95 190.70Z" fill="#fde725"/><circle cx="454.30" cy="190.70" r="2.95" fill="#fde725"/><path d="M465.00 215.00H474.25M469.50 211.00V219.50" stroke="#0d0d0d" stroke-width="1" fill="none"/><path d="M469.50 211.65L472.85 215.00L469.50 218.35L466.15 215.00Z" fill="#424186"/><circle cx="469.50" cy="215.00" r="2.95" fill="#424186"/><path d="M491.50 215.00H495.50M493.60 206.75V223.00" stroke="#0d0d0d" stroke-width="1" fill="none"/><path d="M493.60 211.65L496.95 215.00L493.60 218.35L490.25 215.00Z" fill="#424186"/><circle cx="493.60" cy="215.00" r="2.95" fill="#424186"/><path d="M412.60 153.90H425.10M419.30 141.70V166.00" stroke="#0d0d0d" stroke-width="1" fill="none"/><path d="M419.30 150.55L422.65 153.90L419.30 157.25L415.95 153.90Z" fill="#404588"/><circle cx="419.30" cy="153.90" r="2.95" fill="#404588"/><path d="M398.50 163.50H403.30M400.90 158.00V169.00" stroke="#0d0d0d" stroke-width="1" fill="none"/><path d="M400.90 160.15L404.25 163.50L400.90 166.85L397.55 163.50Z" fill="#46337f"/><circle cx="400.90" cy="163.50" r="2.95" fill="#46337f"/><path d="M402.00 167.60H409.80M405.90 162.00V173.00" stroke="#0d0d0d" stroke-width="1" fill="none"/><path d="M405.90 164.25L409.25 167.60L405.90 170.95L402.55 167.60Z" fill="#39558c"/><circle cx="405.90" cy="167.60" r="2.95" fill="#39558c"/><path d="M408.50 170.20H414.30M411.40 165.00V175.50" stroke="#0d0d0d" stroke-width="1" fill="none"/><path d="M411.40 166.85L414.75 170.20L411.40 173.55L408.05 170.20Z" fill="#472c7a"/><circle cx="411.40" cy="170.20" r="2.95" fill="#472c7a"/><path d="M400.00 170.20H406.80M403.40 165.00V175.50" stroke="#0d0d0d" stroke-width="1" fill="none"/><path d="M403.40 166.85L406.75 170.20L403.40 173.55L400.05 170.20Z" fill="#365c8d"/><circle cx="403.40" cy="170.20" r="2.95" fill="#365c8d"/><path d="M389.00 173.80H399.00M394.60 168.00V179.00" stroke="#0d0d0d" stroke-width="1" fill="none"/><path d="M394.60 170.45L397.95 173.80L394.60 177.15L391.25 173.80Z" fill="#39558c"/><circle cx="394.60" cy="173.80" r="2.95" fill="#39558c"/><path d="M429.00 145.75H434.50M431.75 140.00V151.50" stroke="#0d0d0d" stroke-width="1" fill="none"/><path d="M431.75 142.40L435.10 145.75L431.75 149.10L428.40 145.75Z" fill="#443a83"/><circle cx="431.75" cy="145.75" r="2.95" fill="#443a83"/><path d="M481.51 94.70H490.63M486.20 80.02V107.66" stroke="#0d0d0d" stroke-width="1" fill="none"/><path d="M486.20 91.35L489.55 94.70L486.20 98.05L482.85 94.70Z" fill="#472c7a"/><circle cx="486.20" cy="94.70" r="2.95" fill="#472c7a"/><path d="M488.20 94.70H494.08M490.50 83.18V107.84" stroke="#0d0d0d" stroke-width="1" fill="none"/><path d="M490.50 91.35L493.85 94.70L490.50 98.05L487.15 94.70Z" fill="#39558c"/><circle cx="490.50" cy="94.70" r="2.95" fill="#39558c"/><path d="M482.73 102.60H494.81M487.70 94.11V115.65" stroke="#0d0d0d" stroke-width="1" fill="none"/><path d="M487.70 99.25L491.05 102.60L487.70 105.95L484.35 102.60Z" fill="#3c4f8a"/><circle cx="487.70" cy="102.60" r="2.95" fill="#3c4f8a"/><path d="M490.87 105.90H501.49M494.80 99.80V111.89" stroke="#0d0d0d" stroke-width="1" fill="none"/><path d="M494.80 102.55L498.15 105.90L494.80 109.25L491.45 105.90Z" fill="#472c7a"/><circle cx="494.80" cy="105.90" r="2.95" fill="#472c7a"/><path d="M483.49 113.40H490.73M487.20 104.29V120.96" stroke="#0d0d0d" stroke-width="1" fill="none"/><path d="M487.20 110.05L490.55 113.40L487.20 116.75L483.85 113.40Z" fill="#3b528b"/><circle cx="487.20" cy="113.40" r="2.95" fill="#3b528b"/><path d="M485.81 115.10H495.35M490.20 99.03V134.79" stroke="#0d0d0d" stroke-width="1" fill="none"/><path d="M490.20 111.75L493.55 115.10L490.20 118.45L486.85 115.10Z" fill="#31688e"/><circle cx="490.20" cy="115.10" r="2.95" fill="#31688e"/><path d="M497.20 85.00H505.59M502.20 74.43V96.14" stroke="#0d0d0d" stroke-width="1" fill="none"/><path d="M502.20 81.65L505.55 85.00L502.20 88.35L498.85 85.00Z" fill="#39558c"/><circle cx="502.20" cy="85.00" r="2.95" fill="#39558c"/><path d="M497.53 83.00H517.49M505.20 68.02V95.76" stroke="#0d0d0d" stroke-width="1" fill="none"/><path d="M505.20 79.65L508.55 83.00L505.20 86.35L501.85 83.00Z" fill="#33628d"/><circle cx="505.20" cy="83.00" r="2.95" fill="#33628d"/><path d="M503.82 84.70H518.12M512.70 78.73V89.29" stroke="#0d0d0d" stroke-width="1" fill="none"/><path d="M512.70 81.35L516.05 84.70L512.70 88.05L509.35 84.70Z" fill="#46337f"/><circle cx="512.70" cy="84.70" r="2.95" fill="#46337f"/><path d="M512.68 86.40H519.16M516.10 76.14V96.64" stroke="#0d0d0d" stroke-width="1" fill="none"/><path d="M516.10 83.05L519.45 86.40L516.10 89.75L512.75 86.40Z" fill="#1fa187"/><circle cx="516.10" cy="86.40" r="2.95" fill="#1fa187"/><path d="M505.27 91.70H509.36M506.90 87.81V95.67" stroke="#0d0d0d" stroke-width="1" fill="none"/><path d="M506.90 88.35L510.25 91.70L506.90 95.05L503.55 91.70Z" fill="#31688e"/><circle cx="506.90" cy="91.70" r="2.95" fill="#31688e"/><path d="M522.51 82.00H529.72M525.60 78.58V85.58" stroke="#0d0d0d" stroke-width="1" fill="none"/><path d="M525.60 78.65L528.95 82.00L525.60 85.35L522.25 82.00Z" fill="#297a8e"/><circle cx="525.60" cy="82.00" r="2.95" fill="#297a8e"/><path d="M523.57 85.00H547.24M537.30 79.18V91.47" stroke="#0d0d0d" stroke-width="1" fill="none"/><path d="M537.30 81.65L540.65 85.00L537.30 88.35L533.95 85.00Z" fill="#2b748e"/><circle cx="537.30" cy="85.00" r="2.95" fill="#2b748e"/><path d="M532.54 94.70H540.89M536.20 90.34V98.51" stroke="#0d0d0d" stroke-width="1" fill="none"/><path d="M536.20 91.35L539.55 94.70L536.20 98.05L532.85 94.70Z" fill="#31688e"/><circle cx="536.20" cy="94.70" r="2.95" fill="#31688e"/><path d="M500.84 104.20H509.04M505.20 86.68V116.58" stroke="#0d0d0d" stroke-width="1" fill="none"/><path d="M505.20 100.85L508.55 104.20L505.20 107.55L501.85 104.20Z" fill="#228b8d"/><circle cx="505.20" cy="104.20" r="2.95" fill="#228b8d"/><path d="M507.71 99.20H515.03M511.90 91.29V104.49" stroke="#0d0d0d" stroke-width="1" fill="none"/><path d="M511.90 95.85L515.25 99.20L511.90 102.55L508.55 99.20Z" fill="#2b748e"/><circle cx="511.90" cy="99.20" r="2.95" fill="#2b748e"/><path d="M507.28 98.40H530.92M516.10 89.11V104.51" stroke="#0d0d0d" stroke-width="1" fill="none"/><path d="M516.10 95.05L519.45 98.40L516.10 101.75L512.75 98.40Z" fill="#25858e"/><circle cx="516.10" cy="98.40" r="2.95" fill="#25858e"/><path d="M521.88 97.60H526.57M524.40 94.34V101.36" stroke="#0d0d0d" stroke-width="1" fill="none"/><path d="M524.40 94.25L527.75 97.60L524.40 100.95L521.05 97.60Z" fill="#2b748e"/><circle cx="524.40" cy="97.60" r="2.95" fill="#2b748e"/><path d="M524.88 100.90H528.89M527.00 94.45V105.51" stroke="#0d0d0d" stroke-width="1" fill="none"/><path d="M527.00 97.55L530.35 100.90L527.00 104.25L523.65 100.90Z" fill="#3fbc73"/><circle cx="527.00" cy="100.90" r="2.95" fill="#3fbc73"/><path d="M525.15 100.90H537.05M529.50 90.34V113.35" stroke="#0d0d0d" stroke-width="1" fill="none"/><path d="M529.50 97.55L532.85 100.90L529.50 104.25L526.15 100.90Z" fill="#25858e"/><circle cx="529.50" cy="100.90" r="2.95" fill="#25858e"/><path d="M515.23 105.10H524.77M520.30 100.27V111.65" stroke="#0d0d0d" stroke-width="1" fill="none"/><path d="M520.30 101.75L523.65 105.10L520.30 108.45L516.95 105.10Z" fill="#27808e"/><circle cx="520.30" cy="105.10" r="2.95" fill="#27808e"/><path d="M515.65 106.80H519.72M517.30 97.85V120.25" stroke="#0d0d0d" stroke-width="1" fill="none"/><path d="M517.30 103.45L520.65 106.80L517.30 110.15L513.95 106.80Z" fill="#3c4f8a"/><circle cx="517.30" cy="106.80" r="2.95" fill="#3c4f8a"/><path d="M526.54 106.40H536.09M532.00 101.33V109.89" stroke="#0d0d0d" stroke-width="1" fill="none"/><path d="M532.00 103.05L535.35 106.40L532.00 109.75L528.65 106.40Z" fill="#2b748e"/><circle cx="532.00" cy="106.40" r="2.95" fill="#2b748e"/><path d="M516.63 109.80H536.97M529.00 102.90V114.66" stroke="#0d0d0d" stroke-width="1" fill="none"/><path d="M529.00 106.45L532.35 109.80L529.00 113.15L525.65 109.80Z" fill="#297a8e"/><circle cx="529.00" cy="109.80" r="2.95" fill="#297a8e"/><path d="M503.00 111.80H510.16M506.90 97.86V126.56" stroke="#0d0d0d" stroke-width="1" fill="none"/><path d="M506.90 108.45L510.25 111.80L506.90 115.15L503.55 111.80Z" fill="#1fa187"/><circle cx="506.90" cy="111.80" r="2.95" fill="#1fa187"/><path d="M504.43 115.10H516.82M512.20 110.80V118.11" stroke="#0d0d0d" stroke-width="1" fill="none"/><path d="M512.20 111.75L515.55 115.10L512.20 118.45L508.85 115.10Z" fill="#33628d"/><circle cx="512.20" cy="115.10" r="2.95" fill="#33628d"/><path d="M503.37 118.10H517.14M510.20 104.26V128.09" stroke="#0d0d0d" stroke-width="1" fill="none"/><path d="M510.20 114.75L513.55 118.10L510.20 121.45L506.85 118.10Z" fill="#35b779"/><circle cx="510.20" cy="118.10" r="2.95" fill="#35b779"/><path d="M506.57 120.10H516.40M511.90 107.37V128.74" stroke="#0d0d0d" stroke-width="1" fill="none"/><path d="M511.90 116.75L515.25 120.10L511.90 123.45L508.55 120.10Z" fill="#27808e"/><circle cx="511.90" cy="120.10" r="2.95" fill="#27808e"/><path d="M520.73 119.30H526.76M524.40 112.44V125.00" stroke="#0d0d0d" stroke-width="1" fill="none"/><path d="M524.40 115.95L527.75 119.30L524.40 122.65L521.05 119.30Z" fill="#297a8e"/><circle cx="524.40" cy="119.30" r="2.95" fill="#297a8e"/><path d="M517.32 127.70H530.10M525.30 124.05V131.33" stroke="#0d0d0d" stroke-width="1" fill="none"/><path d="M525.30 124.35L528.65 127.70L525.30 131.05L521.95 127.70Z" fill="#56c667"/><circle cx="525.30" cy="127.70" r="2.95" fill="#56c667"/><path d="M471.83 124.30H487.57M477.60 120.63V129.25" stroke="#0d0d0d" stroke-width="1" fill="none"/><path d="M477.60 120.95L480.95 124.30L477.60 127.65L474.25 124.30Z" fill="#39558c"/><circle cx="477.60" cy="124.30" r="2.95" fill="#39558c"/><path d="M471.12 127.20H480.91M475.10 118.36V140.31" stroke="#0d0d0d" stroke-width="1" fill="none"/><path d="M475.10 123.85L478.45 127.20L475.10 130.55L471.75 127.20Z" fill="#46337f"/><circle cx="475.10" cy="127.20" r="2.95" fill="#46337f"/><path d="M477.91 124.30H490.32M485.20 111.54V132.71" stroke="#0d0d0d" stroke-width="1" fill="none"/><path d="M485.20 120.95L488.55 124.30L485.20 127.65L481.85 124.30Z" fill="#33628d"/><circle cx="485.20" cy="124.30" r="2.95" fill="#33628d"/><path d="M483.89 124.80H496.56M488.50 116.87V132.54" stroke="#0d0d0d" stroke-width="1" fill="none"/><path d="M488.50 121.45L491.85 124.80L488.50 128.15L485.15 124.80Z" fill="#365c8d"/><circle cx="488.50" cy="124.80" r="2.95" fill="#365c8d"/><path d="M488.91 123.10H501.52M496.00 116.58V129.19" stroke="#0d0d0d" stroke-width="1" fill="none"/><path d="M496.00 119.75L499.35 123.10L496.00 126.45L492.65 123.10Z" fill="#424186"/><circle cx="496.00" cy="123.10" r="2.95" fill="#424186"/><path d="M484.16 126.00H499.49M493.50 121.27V132.71" stroke="#0d0d0d" stroke-width="1" fill="none"/><path d="M493.50 122.65L496.85 126.00L493.50 129.35L490.15 126.00Z" fill="#228b8d"/><circle cx="493.50" cy="126.00" r="2.95" fill="#228b8d"/><path d="M496.72 126.80H502.32M499.40 105.68V145.74" stroke="#0d0d0d" stroke-width="1" fill="none"/><path d="M499.40 123.45L502.75 126.80L499.40 130.15L496.05 126.80Z" fill="#31688e"/><circle cx="499.40" cy="126.80" r="2.95" fill="#31688e"/><path d="M468.43 126.80H488.97M480.10 116.15V134.60" stroke="#0d0d0d" stroke-width="1" fill="none"/><path d="M480.10 123.45L483.45 126.80L480.10 130.15L476.75 126.80Z" fill="#297a8e"/><circle cx="480.10" cy="126.80" r="2.95" fill="#297a8e"/><path d="M457.69 130.90H473.69M466.10 125.41V135.08" stroke="#0d0d0d" stroke-width="1" fill="none"/><path d="M466.10 127.55L469.45 130.90L466.10 134.25L462.75 130.90Z" fill="#31688e"/><circle cx="466.10" cy="130.90" r="2.95" fill="#31688e"/><path d="M472.78 130.00H479.87M477.00 120.75V137.51" stroke="#0d0d0d" stroke-width="1" fill="none"/><path d="M477.00 126.65L480.35 130.00L477.00 133.35L473.65 130.00Z" fill="#297a8e"/><circle cx="477.00" cy="130.00" r="2.95" fill="#297a8e"/><path d="M480.29 132.50H493.16M486.20 119.22V146.57" stroke="#0d0d0d" stroke-width="1" fill="none"/><path d="M486.20 129.15L489.55 132.50L486.20 135.85L482.85 132.50Z" fill="#21918c"/><circle cx="486.20" cy="132.50" r="2.95" fill="#21918c"/><path d="M479.54 131.70H502.84M491.70 122.96V140.00" stroke="#0d0d0d" stroke-width="1" fill="none"/><path d="M491.70 128.35L495.05 131.70L491.70 135.05L488.35 131.70Z" fill="#228b8d"/><circle cx="491.70" cy="131.70" r="2.95" fill="#228b8d"/><path d="M488.38 137.00H499.35M493.70 118.94V150.41" stroke="#0d0d0d" stroke-width="1" fill="none"/><path d="M493.70 133.65L497.05 137.00L493.70 140.35L490.35 137.00Z" fill="#440256"/><circle cx="493.70" cy="137.00" r="2.95" fill="#440256"/><path d="M492.88 137.50H504.01M498.70 128.42V146.83" stroke="#0d0d0d" stroke-width="1" fill="none"/><path d="M498.70 134.15L502.05 137.50L498.70 140.85L495.35 137.50Z" fill="#21918c"/><circle cx="498.70" cy="137.50" r="2.95" fill="#21918c"/><path d="M503.78 137.50H510.76M507.90 131.36V141.72" stroke="#0d0d0d" stroke-width="1" fill="none"/><path d="M507.90 134.15L511.25 137.50L507.90 140.85L504.55 137.50Z" fill="#21918c"/><circle cx="507.90" cy="137.50" r="2.95" fill="#21918c"/><path d="M503.99 132.50H513.96M510.10 128.55V137.86" stroke="#0d0d0d" stroke-width="1" fill="none"/><path d="M510.10 129.15L513.45 132.50L510.10 135.85L506.75 132.50Z" fill="#1fa187"/><circle cx="510.10" cy="132.50" r="2.95" fill="#1fa187"/><path d="M502.03 126.70H509.17M505.40 116.27V135.66" stroke="#0d0d0d" stroke-width="1" fill="none"/><path d="M505.40 123.35L508.75 126.70L505.40 130.05L502.05 126.70Z" fill="#31688e"/><circle cx="505.40" cy="126.70" r="2.95" fill="#31688e"/><path d="M494.31 127.50H499.48M497.00 121.06V133.99" stroke="#0d0d0d" stroke-width="1" fill="none"/><path d="M497.00 124.15L500.35 127.50L497.00 130.85L493.65 127.50Z" fill="#228b8d"/><circle cx="497.00" cy="127.50" r="2.95" fill="#228b8d"/><path d="M463.54 135.90H476.67M471.40 122.44V152.35" stroke="#0d0d0d" stroke-width="1" fill="none"/><path d="M471.40 132.55L474.75 135.90L471.40 139.25L468.05 135.90Z" fill="#21918c"/><circle cx="471.40" cy="135.90" r="2.95" fill="#21918c"/><path d="M449.87 141.70H479.71M463.60 127.14V151.56" stroke="#0d0d0d" stroke-width="1" fill="none"/><path d="M463.60 138.35L466.95 141.70L463.60 145.05L460.25 141.70Z" fill="#3b528b"/><circle cx="463.60" cy="141.70" r="2.95" fill="#3b528b"/><path d="M463.43 145.90H467.93M466.10 139.30V152.63" stroke="#0d0d0d" stroke-width="1" fill="none"/><path d="M466.10 142.55L469.45 145.90L466.10 149.25L462.75 145.90Z" fill="#33628d"/><circle cx="466.10" cy="145.90" r="2.95" fill="#33628d"/><path d="M441.85 139.20H455.65M446.90 133.44V146.47" stroke="#0d0d0d" stroke-width="1" fill="none"/><path d="M446.90 135.85L450.25 139.20L446.90 142.55L443.55 139.20Z" fill="#31688e"/><circle cx="446.90" cy="139.20" r="2.95" fill="#31688e"/><path d="M444.14 141.70H454.47M448.50 135.01V151.38" stroke="#0d0d0d" stroke-width="1" fill="none"/><path d="M448.50 138.35L451.85 141.70L448.50 145.05L445.15 141.70Z" fill="#31688e"/><circle cx="448.50" cy="141.70" r="2.95" fill="#31688e"/><path d="M438.04 140.90H449.13M442.70 133.36V150.38" stroke="#0d0d0d" stroke-width="1" fill="none"/><path d="M442.70 137.55L446.05 140.90L442.70 144.25L439.35 140.90Z" fill="#3b528b"/><circle cx="442.70" cy="140.90" r="2.95" fill="#3b528b"/><path d="M440.70 145.90H449.41M445.20 139.54V152.34" stroke="#0d0d0d" stroke-width="1" fill="none"/><path d="M445.20 142.55L448.55 145.90L445.20 149.25L441.85 145.90Z" fill="#33628d"/><circle cx="445.20" cy="145.90" r="2.95" fill="#33628d"/><path d="M427.01 152.30H441.14M434.30 147.28V160.02" stroke="#0d0d0d" stroke-width="1" fill="none"/><path d="M434.30 148.95L437.65 152.30L434.30 155.65L430.95 152.30Z" fill="#31688e"/><circle cx="434.30" cy="152.30" r="2.95" fill="#31688e"/><path d="M429.62 150.90H461.72M446.90 141.36V159.94" stroke="#0d0d0d" stroke-width="1" fill="none"/><path d="M446.90 147.55L450.25 150.90L446.90 154.25L443.55 150.90Z" fill="#33628d"/><circle cx="446.90" cy="150.90" r="2.95" fill="#33628d"/><path d="M439.22 147.60H465.54M455.20 133.84V157.22" stroke="#0d0d0d" stroke-width="1" fill="none"/><path d="M455.20 144.25L458.55 147.60L455.20 150.95L451.85 147.60Z" fill="#297a8e"/><circle cx="455.20" cy="147.60" r="2.95" fill="#297a8e"/><path d="M445.14 152.60H465.83M456.90 143.56V165.67" stroke="#0d0d0d" stroke-width="1" fill="none"/><path d="M456.90 149.25L460.25 152.60L456.90 155.95L453.55 152.60Z" fill="#25858e"/><circle cx="456.90" cy="152.60" r="2.95" fill="#25858e"/><path d="M457.64 156.80H465.42M461.90 151.67V161.20" stroke="#0d0d0d" stroke-width="1" fill="none"/><path d="M461.90 153.45L465.25 156.80L461.90 160.15L458.55 156.80Z" fill="#21918c"/><circle cx="461.90" cy="156.80" r="2.95" fill="#21918c"/><path d="M452.13 158.40H464.54M458.60 148.33V168.98" stroke="#0d0d0d" stroke-width="1" fill="none"/><path d="M458.60 155.05L461.95 158.40L458.60 161.75L455.25 158.40Z" fill="#21918c"/><circle cx="458.60" cy="158.40" r="2.95" fill="#21918c"/><path d="M448.50 161.00H469.28M457.70 150.38V172.05" stroke="#0d0d0d" stroke-width="1" fill="none"/><path d="M457.70 157.65L461.05 161.00L457.70 164.35L454.35 161.00Z" fill="#21918c"/><circle cx="457.70" cy="161.00" r="2.95" fill="#21918c"/><path d="M442.81 156.80H451.97M448.50 147.74V164.93" stroke="#0d0d0d" stroke-width="1" fill="none"/><path d="M448.50 153.45L451.85 156.80L448.50 160.15L445.15 156.80Z" fill="#228b8d"/><circle cx="448.50" cy="156.80" r="2.95" fill="#228b8d"/><path d="M434.23 159.30H448.60M440.20 154.04V164.33" stroke="#0d0d0d" stroke-width="1" fill="none"/><path d="M440.20 155.95L443.55 159.30L440.20 162.65L436.85 159.30Z" fill="#3b528b"/><circle cx="440.20" cy="159.30" r="2.95" fill="#3b528b"/><path d="M442.45 163.10H453.52M448.20 148.61V175.78" stroke="#0d0d0d" stroke-width="1" fill="none"/><path d="M448.20 159.75L451.55 163.10L448.20 166.45L444.85 163.10Z" fill="#31688e"/><circle cx="448.20" cy="163.10" r="2.95" fill="#31688e"/><path d="M424.95 161.80H433.50M428.80 150.36V170.88" stroke="#0d0d0d" stroke-width="1" fill="none"/><path d="M428.80 158.45L432.15 161.80L428.80 165.15L425.45 161.80Z" fill="#297a8e"/><circle cx="428.80" cy="161.80" r="2.95" fill="#297a8e"/><path d="M428.41 163.10H432.55M431.00 151.37V170.91" stroke="#0d0d0d" stroke-width="1" fill="none"/><path d="M431.00 159.75L434.35 163.10L431.00 166.45L427.65 163.10Z" fill="#31688e"/><circle cx="431.00" cy="163.10" r="2.95" fill="#31688e"/><path d="M419.99 170.20H428.98M425.10 159.76V180.42" stroke="#0d0d0d" stroke-width="1" fill="none"/><path d="M425.10 166.85L428.45 170.20L425.10 173.55L421.75 170.20Z" fill="#21918c"/><circle cx="425.10" cy="170.20" r="2.95" fill="#21918c"/><path d="M425.33 170.20H436.51M430.10 162.50V181.56" stroke="#0d0d0d" stroke-width="1" fill="none"/><path d="M430.10 166.85L433.45 170.20L430.10 173.55L426.75 170.20Z" fill="#228b8d"/><circle cx="430.10" cy="170.20" r="2.95" fill="#228b8d"/><path d="M429.16 169.80H439.44M434.30 163.27V177.54" stroke="#0d0d0d" stroke-width="1" fill="none"/><path d="M434.30 166.45L437.65 169.80L434.30 173.15L430.95 169.80Z" fill="#21918c"/><circle cx="434.30" cy="169.80" r="2.95" fill="#21918c"/><path d="M431.97 170.20H443.65M439.30 155.44V179.98" stroke="#0d0d0d" stroke-width="1" fill="none"/><path d="M439.30 166.85L442.65 170.20L439.30 173.55L435.95 170.20Z" fill="#31688e"/><circle cx="439.30" cy="170.20" r="2.95" fill="#31688e"/><path d="M439.83 170.20H452.87M446.00 157.79V184.79" stroke="#0d0d0d" stroke-width="1" fill="none"/><path d="M446.00 166.85L449.35 170.20L446.00 173.55L442.65 170.20Z" fill="#46337f"/><circle cx="446.00" cy="170.20" r="2.95" fill="#46337f"/><path d="M448.52 170.50H463.08M456.90 162.09V181.23" stroke="#0d0d0d" stroke-width="1" fill="none"/><path d="M456.90 167.15L460.25 170.50L456.90 173.85L453.55 170.50Z" fill="#9dd93b"/><circle cx="456.90" cy="170.50" r="2.95" fill="#9dd93b"/><path d="M458.18 172.30H465.29M461.90 164.98V182.86" stroke="#0d0d0d" stroke-width="1" fill="none"/><path d="M461.90 168.95L465.25 172.30L461.90 175.65L458.55 172.30Z" fill="#7fd34e"/><circle cx="461.90" cy="172.30" r="2.95" fill="#7fd34e"/><path d="M462.03 166.80H473.40M466.90 160.34V173.89" stroke="#0d0d0d" stroke-width="1" fill="none"/><path d="M466.90 163.45L470.25 166.80L466.90 170.15L463.55 166.80Z" fill="#21918c"/><circle cx="466.90" cy="166.80" r="2.95" fill="#21918c"/><path d="M450.63 161.00H483.04M469.40 148.40V176.69" stroke="#0d0d0d" stroke-width="1" fill="none"/><path d="M469.40 157.65L472.75 161.00L469.40 164.35L466.05 161.00Z" fill="#21918c"/><circle cx="469.40" cy="161.00" r="2.95" fill="#21918c"/><path d="M466.82 146.70H476.03M471.90 132.75V155.70" stroke="#0d0d0d" stroke-width="1" fill="none"/><path d="M471.90 143.35L475.25 146.70L471.90 150.05L468.55 146.70Z" fill="#297a8e"/><circle cx="471.90" cy="146.70" r="2.95" fill="#297a8e"/><path d="M470.72 140.90H478.07M473.60 132.07V147.09" stroke="#0d0d0d" stroke-width="1" fill="none"/><path d="M473.60 137.55L476.95 140.90L473.60 144.25L470.25 140.90Z" fill="#31688e"/><circle cx="473.60" cy="140.90" r="2.95" fill="#31688e"/><path d="M470.45 141.70H481.73M477.00 133.70V153.20" stroke="#0d0d0d" stroke-width="1" fill="none"/><path d="M477.00 138.35L480.35 141.70L477.00 145.05L473.65 141.70Z" fill="#297a8e"/><circle cx="477.00" cy="141.70" r="2.95" fill="#297a8e"/><path d="M475.83 145.10H480.70M478.60 139.21V149.86" stroke="#0d0d0d" stroke-width="1" fill="none"/><path d="M478.60 141.75L481.95 145.10L478.60 148.45L475.25 145.10Z" fill="#31688e"/><circle cx="478.60" cy="145.10" r="2.95" fill="#31688e"/><path d="M477.27 147.60H485.33M481.10 142.82V154.17" stroke="#0d0d0d" stroke-width="1" fill="none"/><path d="M481.10 144.25L484.45 147.60L481.10 150.95L477.75 147.60Z" fill="#35b779"/><circle cx="481.10" cy="147.60" r="2.95" fill="#35b779"/><path d="M476.26 145.90H491.67M485.30 133.48V160.04" stroke="#0d0d0d" stroke-width="1" fill="none"/><path d="M485.30 142.55L488.65 145.90L485.30 149.25L481.95 145.90Z" fill="#56c667"/><circle cx="485.30" cy="145.90" r="2.95" fill="#56c667"/><path d="M485.04 146.70H492.75M488.70 140.82V153.03" stroke="#0d0d0d" stroke-width="1" fill="none"/><path d="M488.70 143.35L492.05 146.70L488.70 150.05L485.35 146.70Z" fill="#21918c"/><circle cx="488.70" cy="146.70" r="2.95" fill="#21918c"/><path d="M476.87 151.80H485.64M482.00 146.64V156.55" stroke="#0d0d0d" stroke-width="1" fill="none"/><path d="M482.00 148.45L485.35 151.80L482.00 155.15L478.65 151.80Z" fill="#21918c"/><circle cx="482.00" cy="151.80" r="2.95" fill="#21918c"/><path d="M474.26 152.60H494.04M486.20 149.36V156.38" stroke="#0d0d0d" stroke-width="1" fill="none"/><path d="M486.20 149.25L489.55 152.60L486.20 155.95L482.85 152.60Z" fill="#21918c"/><circle cx="486.20" cy="152.60" r="2.95" fill="#21918c"/><path d="M486.75 153.40H491.17M489.50 144.02V161.25" stroke="#0d0d0d" stroke-width="1" fill="none"/><path d="M489.50 150.05L492.85 153.40L489.50 156.75L486.15 153.40Z" fill="#1f968b"/><circle cx="489.50" cy="153.40" r="2.95" fill="#1f968b"/><path d="M471.99 150.90H484.29M477.00 146.73V154.13" stroke="#0d0d0d" stroke-width="1" fill="none"/><path d="M477.00 147.55L480.35 150.90L477.00 154.25L473.65 150.90Z" fill="#365c8d"/><circle cx="477.00" cy="150.90" r="2.95" fill="#365c8d"/><path d="M468.26 159.30H480.11M474.40 155.26V162.39" stroke="#0d0d0d" stroke-width="1" fill="none"/><path d="M474.40 155.95L477.75 159.30L474.40 162.65L471.05 159.30Z" fill="#228b8d"/><circle cx="474.40" cy="159.30" r="2.95" fill="#228b8d"/><path d="M472.00 159.30H480.80M477.00 150.43V166.38" stroke="#0d0d0d" stroke-width="1" fill="none"/><path d="M477.00 155.95L480.35 159.30L477.00 162.65L473.65 159.30Z" fill="#31688e"/><circle cx="477.00" cy="159.30" r="2.95" fill="#31688e"/><path d="M469.95 158.40H488.60M481.10 140.19V171.87" stroke="#0d0d0d" stroke-width="1" fill="none"/><path d="M481.10 155.05L484.45 158.40L481.10 161.75L477.75 158.40Z" fill="#228b8d"/><circle cx="481.10" cy="158.40" r="2.95" fill="#228b8d"/><path d="M480.03 160.10H490.77M485.30 150.19V173.33" stroke="#0d0d0d" stroke-width="1" fill="none"/><path d="M485.30 156.75L488.65 160.10L485.30 163.45L481.95 160.10Z" fill="#22a785"/><circle cx="485.30" cy="160.10" r="2.95" fill="#22a785"/><path d="M471.30 166.80H480.13M475.30 159.85V171.35" stroke="#0d0d0d" stroke-width="1" fill="none"/><path d="M475.30 163.45L478.65 166.80L475.30 170.15L471.95 166.80Z" fill="#21918c"/><circle cx="475.30" cy="166.80" r="2.95" fill="#21918c"/><path d="M476.89 165.10H482.76M480.30 161.77V169.39" stroke="#0d0d0d" stroke-width="1" fill="none"/><path d="M480.30 161.75L483.65 165.10L480.30 168.45L476.95 165.10Z" fill="#21918c"/><circle cx="480.30" cy="165.10" r="2.95" fill="#21918c"/><path d="M481.68 171.80H486.85M483.60 158.97V189.60" stroke="#0d0d0d" stroke-width="1" fill="none"/><path d="M483.60 168.45L486.95 171.80L483.60 175.15L480.25 171.80Z" fill="#21918c"/><circle cx="483.60" cy="171.80" r="2.95" fill="#21918c"/><path d="M493.19 155.10H500.29M497.00 151.31V159.77" stroke="#0d0d0d" stroke-width="1" fill="none"/><path d="M497.00 151.75L500.35 155.10L497.00 158.45L493.65 155.10Z" fill="#21918c"/><circle cx="497.00" cy="155.10" r="2.95" fill="#21918c"/><path d="M497.24 158.40H504.13M500.40 154.74V161.74" stroke="#0d0d0d" stroke-width="1" fill="none"/><path d="M500.40 155.05L503.75 158.40L500.40 161.75L497.05 158.40Z" fill="#21918c"/><circle cx="500.40" cy="158.40" r="2.95" fill="#21918c"/><path d="M492.34 146.70H509.22M501.20 131.53V156.71" stroke="#0d0d0d" stroke-width="1" fill="none"/><path d="M501.20 143.35L504.55 146.70L501.20 150.05L497.85 146.70Z" fill="#297a8e"/><circle cx="501.20" cy="146.70" r="2.95" fill="#297a8e"/><path d="M502.20 146.70H514.16M507.90 141.80V150.35" stroke="#0d0d0d" stroke-width="1" fill="none"/><path d="M507.90 143.35L511.25 146.70L507.90 150.05L504.55 146.70Z" fill="#21918c"/><circle cx="507.90" cy="146.70" r="2.95" fill="#21918c"/><path d="M395.13 181.70H411.08M402.50 176.15V188.30" stroke="#0d0d0d" stroke-width="1" fill="none"/><path d="M402.50 178.35L405.85 181.70L402.50 185.05L399.15 181.70Z" fill="#297a8e"/><circle cx="402.50" cy="181.70" r="2.95" fill="#297a8e"/><path d="M403.69 179.70H423.25M411.70 173.20V184.64" stroke="#0d0d0d" stroke-width="1" fill="none"/><path d="M411.70 176.35L415.05 179.70L411.70 183.05L408.35 179.70Z" fill="#21918c"/><circle cx="411.70" cy="179.70" r="2.95" fill="#21918c"/><path d="M412.06 177.50H427.99M421.80 168.04V190.87" stroke="#0d0d0d" stroke-width="1" fill="none"/><path d="M421.80 174.15L425.15 177.50L421.80 180.85L418.45 177.50Z" fill="#424186"/><circle cx="421.80" cy="177.50" r="2.95" fill="#424186"/><path d="M410.84 185.90H425.31M416.80 175.90V193.15" stroke="#0d0d0d" stroke-width="1" fill="none"/><path d="M416.80 182.55L420.15 185.90L416.80 189.25L413.45 185.90Z" fill="#297a8e"/><circle cx="416.80" cy="185.90" r="2.95" fill="#297a8e"/><path d="M421.12 186.70H429.03M425.10 180.80V191.39" stroke="#0d0d0d" stroke-width="1" fill="none"/><path d="M425.10 183.35L428.45 186.70L425.10 190.05L421.75 186.70Z" fill="#21918c"/><circle cx="425.10" cy="186.70" r="2.95" fill="#21918c"/><path d="M420.88 190.10H427.69M424.30 183.78V194.24" stroke="#0d0d0d" stroke-width="1" fill="none"/><path d="M424.30 186.75L427.65 190.10L424.30 193.45L420.95 190.10Z" fill="#21918c"/><circle cx="424.30" cy="190.10" r="2.95" fill="#21918c"/><path d="M418.09 180.90H440.93M431.00 176.66V186.05" stroke="#0d0d0d" stroke-width="1" fill="none"/><path d="M431.00 177.55L434.35 180.90L431.00 184.25L427.65 180.90Z" fill="#31688e"/><circle cx="431.00" cy="180.90" r="2.95" fill="#31688e"/><path d="M424.97 186.70H436.08M431.00 177.05V197.84" stroke="#0d0d0d" stroke-width="1" fill="none"/><path d="M431.00 183.35L434.35 186.70L431.00 190.05L427.65 186.70Z" fill="#31688e"/><circle cx="431.00" cy="186.70" r="2.95" fill="#31688e"/><path d="M431.37 190.10H439.31M435.20 182.96V196.00" stroke="#0d0d0d" stroke-width="1" fill="none"/><path d="M435.20 186.75L438.55 190.10L435.20 193.45L431.85 190.10Z" fill="#297a8e"/><circle cx="435.20" cy="190.10" r="2.95" fill="#297a8e"/><path d="M433.61 182.50H441.53M438.50 171.82V192.13" stroke="#0d0d0d" stroke-width="1" fill="none"/><path d="M438.50 179.15L441.85 182.50L438.50 185.85L435.15 182.50Z" fill="#472c7a"/><circle cx="438.50" cy="182.50" r="2.95" fill="#472c7a"/><path d="M431.29 180.90H444.85M436.80 172.27V193.06" stroke="#0d0d0d" stroke-width="1" fill="none"/><path d="M436.80 177.55L440.15 180.90L436.80 184.25L433.45 180.90Z" fill="#31688e"/><circle cx="436.80" cy="180.90" r="2.95" fill="#31688e"/><path d="M433.30 185.90H450.47M443.50 179.99V191.09" stroke="#0d0d0d" stroke-width="1" fill="none"/><path d="M443.50 182.55L446.85 185.90L443.50 189.25L440.15 185.90Z" fill="#21918c"/><circle cx="443.50" cy="185.90" r="2.95" fill="#21918c"/><path d="M437.11 175.90H443.46M440.20 170.81V183.24" stroke="#0d0d0d" stroke-width="1" fill="none"/><path d="M440.20 172.55L443.55 175.90L440.20 179.25L436.85 175.90Z" fill="#21918c"/><circle cx="440.20" cy="175.90" r="2.95" fill="#21918c"/><path d="M435.90 176.70H454.91M446.90 167.13V183.70" stroke="#0d0d0d" stroke-width="1" fill="none"/><path d="M446.90 173.35L450.25 176.70L446.90 180.05L443.55 176.70Z" fill="#3f4889"/><circle cx="446.90" cy="176.70" r="2.95" fill="#3f4889"/><path d="M447.71 176.70H456.35M451.90 168.31V183.45" stroke="#0d0d0d" stroke-width="1" fill="none"/><path d="M451.90 173.35L455.25 176.70L451.90 180.05L448.55 176.70Z" fill="#21918c"/><circle cx="451.90" cy="176.70" r="2.95" fill="#21918c"/><path d="M446.04 183.40H460.27M452.70 178.06V187.87" stroke="#0d0d0d" stroke-width="1" fill="none"/><path d="M452.70 180.05L456.05 183.40L452.70 186.75L449.35 183.40Z" fill="#21918c"/><circle cx="452.70" cy="183.40" r="2.95" fill="#21918c"/><path d="M446.70 187.60H452.61M450.20 178.73V195.27" stroke="#0d0d0d" stroke-width="1" fill="none"/><path d="M450.20 184.25L453.55 187.60L450.20 190.95L446.85 187.60Z" fill="#21918c"/><circle cx="450.20" cy="187.60" r="2.95" fill="#21918c"/><path d="M453.00 175.00H474.88M461.90 167.68V180.83" stroke="#0d0d0d" stroke-width="1" fill="none"/><path d="M461.90 171.65L465.25 175.00L461.90 178.35L458.55 175.00Z" fill="#56c667"/><circle cx="461.90" cy="175.00" r="2.95" fill="#56c667"/><path d="M458.87 175.00H490.42M471.10 166.88V184.80" stroke="#0d0d0d" stroke-width="1" fill="none"/><path d="M471.10 171.65L474.45 175.00L471.10 178.35L467.75 175.00Z" fill="#35b779"/><circle cx="471.10" cy="175.00" r="2.95" fill="#35b779"/><path d="M465.22 180.90H477.89M470.30 172.61V186.31" stroke="#0d0d0d" stroke-width="1" fill="none"/><path d="M470.30 177.55L473.65 180.90L470.30 184.25L466.95 180.90Z" fill="#56c667"/><circle cx="470.30" cy="180.90" r="2.95" fill="#56c667"/><path d="M469.30 177.50H480.45M476.10 166.95V184.29" stroke="#0d0d0d" stroke-width="1" fill="none"/><path d="M476.10 174.15L479.45 177.50L476.10 180.85L472.75 177.50Z" fill="#21918c"/><circle cx="476.10" cy="177.50" r="2.95" fill="#21918c"/><path d="M474.25 181.40H494.41M486.20 176.74V187.37" stroke="#0d0d0d" stroke-width="1" fill="none"/><path d="M486.20 178.05L489.55 181.40L486.20 184.75L482.85 181.40Z" fill="#297a8e"/><circle cx="486.20" cy="181.40" r="2.95" fill="#297a8e"/><path d="M473.18 170.80H477.18M475.30 162.15V176.73" stroke="#0d0d0d" stroke-width="1" fill="none"/><path d="M475.30 167.45L478.65 170.80L475.30 174.15L471.95 170.80Z" fill="#21918c"/><circle cx="475.30" cy="170.80" r="2.95" fill="#21918c"/><path d="M476.54 130.75H491.81M484.25 120.70V143.81" stroke="#0d0d0d" stroke-width="1" fill="none"/><path d="M484.25 127.40L487.60 130.75L484.25 134.10L480.90 130.75Z" fill="#21918c"/><circle cx="484.25" cy="130.75" r="2.95" fill="#21918c"/><path d="M494.89 139.50H500.00M498.00 127.56V147.91" stroke="#0d0d0d" stroke-width="1" fill="none"/><path d="M498.00 136.15L501.35 139.50L498.00 142.85L494.65 139.50Z" fill="#21918c"/><circle cx="498.00" cy="139.50" r="2.95" fill="#21918c"/><path d="M511.08 135.75H518.38M514.25 121.51V152.02" stroke="#0d0d0d" stroke-width="1" fill="none"/><path d="M514.25 132.40L517.60 135.75L514.25 139.10L510.90 135.75Z" fill="#33628d"/><circle cx="514.25" cy="135.75" r="2.95" fill="#33628d"/><path d="M438.51 138.50H447.28M443.00 135.42V142.47" stroke="#0d0d0d" stroke-width="1" fill="none"/><path d="M443.00 135.15L446.35 138.50L443.00 141.85L439.65 138.50Z" fill="#365c8d"/><circle cx="443.00" cy="138.50" r="2.95" fill="#365c8d"/><path d="M523.18 130.50H533.80M529.75 121.35V142.36" stroke="#0d0d0d" stroke-width="1" fill="none"/><path d="M529.75 127.15L533.10 130.50L529.75 133.85L526.40 130.50Z" fill="#33628d"/><circle cx="529.75" cy="130.50" r="2.95" fill="#33628d"/><circle cx="595.3" cy="137.5" r="5.7" stroke="#ff0000" stroke-width="1.3" fill="none"/><path d="M44.00 4.35H663.10M44.00 254.40H663.10M44.50 4.35V254.40M388.00 4.35V254.40M662.60 4.35V254.40" stroke="#1e1e1e" stroke-width="1" fill="none"/><rect x="680.10" y="4.35" width="12.40" height="250.05" stroke="#000" stroke-width="0.9" fill="none"/><path d="M44.50 254.40H41.00M388.00 254.40H384.50M44.50 238.77H42.50M388.00 238.77H386.00M44.50 223.14H41.00M388.00 223.14H384.50M44.50 207.51H42.50M388.00 207.51H386.00M44.50 191.88H41.00M388.00 191.88H384.50M44.50 176.25H42.50M388.00 176.25H386.00M44.50 160.62H41.00M388.00 160.62H384.50M44.50 144.99H42.50M388.00 144.99H386.00M44.50 129.36H41.00M388.00 129.36H384.50M44.50 113.73H42.50M388.00 113.73H386.00M44.50 98.10H41.00M388.00 98.10H384.50M44.50 82.47H42.50M388.00 82.47H386.00M44.50 66.84H41.00M388.00 66.84H384.50M44.50 51.21H42.50M388.00 51.21H386.00M44.50 35.58H41.00M388.00 35.58H384.50M44.50 19.95H42.50M388.00 19.95H386.00M44.50 4.32H41.00M388.00 4.32H384.50M44.34 254.40V256.40M67.89 254.40V256.40M86.16 254.40V256.40M101.08 254.40V256.40M113.70 254.40V256.40M124.63 254.40V256.40M134.27 254.40V256.40M142.90 254.40V257.90M199.64 254.40V256.40M232.84 254.40V256.40M256.39 254.40V256.40M274.66 254.40V256.40M289.58 254.40V256.40M302.20 254.40V256.40M313.13 254.40V256.40M322.77 254.40V256.40M331.40 254.40V257.90M388.14 254.40V256.40M410.09 254.40V256.40M427.58 254.40V256.40M439.98 254.40V256.40M449.61 254.40V256.40M457.47 254.40V256.40M464.12 254.40V256.40M469.88 254.40V256.40M474.96 254.40V256.40M479.50 254.40V257.90M509.39 254.40V256.40M526.88 254.40V256.40M539.28 254.40V256.40M548.91 254.40V256.40M556.77 254.40V256.40M563.42 254.40V256.40M569.18 254.40V256.40M574.26 254.40V256.40M578.80 254.40V257.90M608.69 254.40V256.40M626.18 254.40V256.40M638.58 254.40V256.40M648.21 254.40V256.40M656.07 254.40V256.40M662.72 254.40V256.40M692.50 229.50H696.00M692.50 200.00H696.00M692.50 170.50H696.00M692.50 141.00H696.00M692.50 111.50H696.00M692.50 82.00H696.00M692.50 52.50H696.00M692.50 23.00H696.00" stroke="#000" stroke-width="0.9" fill="none"/><g font-family='"Liberation Sans", sans-serif' fill="#000" stroke="#000" stroke-width="0.1"><text x="38.2" y="259.00" font-size="13" text-anchor="end" textLength="18.3" lengthAdjust="spacingAndGlyphs">0.6</text><text x="38.2" y="227.74" font-size="13" text-anchor="end" textLength="18.3" lengthAdjust="spacingAndGlyphs">0.8</text><text x="38.2" y="196.48" font-size="13" text-anchor="end" textLength="18.3" lengthAdjust="spacingAndGlyphs">1.0</text><text x="38.2" y="165.22" font-size="13" text-anchor="end" textLength="18.3" lengthAdjust="spacingAndGlyphs">1.2</text><text x="38.2" y="133.96" font-size="13" text-anchor="end" textLength="18.3" lengthAdjust="spacingAndGlyphs">1.4</text><text x="38.2" y="102.70" font-size="13" text-anchor="end" textLength="18.3" lengthAdjust="spacingAndGlyphs">1.6</text><text x="38.2" y="71.44" font-size="13" text-anchor="end" textLength="18.3" lengthAdjust="spacingAndGlyphs">1.8</text><text x="38.2" y="40.18" font-size="13" text-anchor="end" textLength="18.3" lengthAdjust="spacingAndGlyphs">2.0</text><text x="38.2" y="8.92" font-size="13" text-anchor="end" textLength="18.3" lengthAdjust="spacingAndGlyphs">2.2</text><text x="133.10" y="270.1" font-size="12.6" textLength="13.6" lengthAdjust="spacingAndGlyphs">10</text><text x="147.90" y="265.9" font-size="8.6">0</text><text x="321.60" y="270.1" font-size="12.6" textLength="13.6" lengthAdjust="spacingAndGlyphs">10</text><text x="336.40" y="265.9" font-size="8.6">1</text><text x="469.70" y="270.1" font-size="12.6" textLength="13.6" lengthAdjust="spacingAndGlyphs">10</text><text x="484.50" y="265.9" font-size="8.6">3</text><text x="569.00" y="270.1" font-size="12.6" textLength="13.6" lengthAdjust="spacingAndGlyphs">10</text><text x="583.80" y="265.9" font-size="8.6">4</text><text x="698.6" y="233.10" font-size="10.2" textLength="18.4" lengthAdjust="spacingAndGlyphs">2.50</text><text x="698.6" y="203.60" font-size="10.2" textLength="18.4" lengthAdjust="spacingAndGlyphs">2.75</text><text x="698.6" y="174.10" font-size="10.2" textLength="18.4" lengthAdjust="spacingAndGlyphs">3.00</text><text x="698.6" y="144.60" font-size="10.2" textLength="18.4" lengthAdjust="spacingAndGlyphs">3.25</text><text x="698.6" y="115.10" font-size="10.2" textLength="18.4" lengthAdjust="spacingAndGlyphs">3.50</text><text x="698.6" y="85.60" font-size="10.2" textLength="18.4" lengthAdjust="spacingAndGlyphs">3.75</text><text x="698.6" y="56.10" font-size="10.2" textLength="18.4" lengthAdjust="spacingAndGlyphs">4.00</text><text x="698.6" y="26.60" font-size="10.2" textLength="18.4" lengthAdjust="spacingAndGlyphs">4.25</text><text x="185.6" y="286.5" font-size="14.3" textLength="60.8" lengthAdjust="spacingAndGlyphs"><tspan font-style="italic">M</tspan><tspan font-style="italic" font-size="10" dy="2.2">p</tspan><tspan dy="-2.2"> (</tspan><tspan font-style="italic">M</tspan><tspan font-size="10" dy="2.2">Jup</tspan><tspan dy="-2.2">)</tspan></text><text x="460.8" y="286.1" font-size="14.3" textLength="128.2" lengthAdjust="spacingAndGlyphs">Insolation flux (<tspan font-style="italic">S</tspan><tspan font-size="10" dy="2.2">⊕</tspan><tspan dy="-2.2">)</tspan></text><text transform="translate(11.0 157.6) rotate(-90)" x="0" y="0" font-size="14.3" textLength="54.6" lengthAdjust="spacingAndGlyphs"><tspan font-style="italic">R</tspan><tspan font-style="italic" font-size="10" dy="2.2">p</tspan><tspan dy="-2.2"> (</tspan><tspan font-style="italic">R</tspan><tspan font-size="10" dy="2.2">Jup</tspan><tspan dy="-2.2">)</tspan></text><text transform="translate(725.7 112.3) rotate(90)" x="0" y="0" font-size="13" textLength="32.4" lengthAdjust="spacingAndGlyphs">log <tspan font-style="italic">g</tspan><tspan font-style="italic" font-size="8.5" dy="2">p</tspan></text></g></svg></body></html>
